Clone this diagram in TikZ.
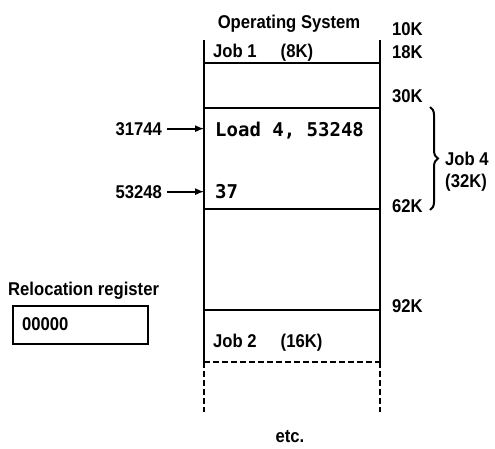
\documentclass[tikz,border=0pt]{standalone}
\usepackage{fontspec}
\setmainfont[FakeStretch=0.9]{Liberation Sans}
\newfontfamily\codefont{DejaVu Sans Mono}
\usetikzlibrary{decorations.pathreplacing}

\begin{document}
\begin{tikzpicture}[x=1pt,y=-1pt,>=latex,
    lbl/.style={anchor=base west,inner sep=0pt,font=\fontsize{18.5}{20}\selectfont\bfseries},
    code/.style={lbl,font=\fontsize{19}{21}\selectfont\codefont\bfseries},
    wall/.style={line width=2pt}]
    \useasboundingbox (0,0) rectangle (495,448);
    % memory column
    \coordinate (tl) at (204,40);
    \coordinate (tr) at (380,40);
    \coordinate (bl) at (204,362);
    \coordinate (br) at (380,362);
    \draw[wall] (tl) -- (bl) (tr) -- (br);
    \draw[wall] (204,63) -- (380,63) (204,108) -- (380,108)
        (204,209) -- (380,209) (204,310) -- (380,310);
    \draw[wall,dash pattern=on 6pt off 3pt] (bl) -- (br)
        (bl) -- ++(0,50) (br) -- ++(0,50);
    % contents
    \node[lbl,anchor=base] (os) at (289,28) {Operating System};
    \node[lbl] (job1) at (213,57) {Job 1\hspace{1.3em}(8K)};
    \node[code] (load) at (215,136) {Load 4, 53248};
    \node[code] (val) at (215,198) {37};
    \node[lbl] (job2) at (213,347) {Job 2\hspace{1.3em}(16K)};
    \node[lbl,anchor=base] (etc) at (290,442) {etc.};
    % addresses
    \node[lbl] (k10) at (392,35) {10K};
    \node[lbl] (k18) at (392,58) {18K};
    \node[lbl] (k30) at (392,102) {30K};
    \node[lbl] (k62) at (392,212) {62K};
    \node[lbl] (k92) at (392,312) {92K};
    \node[lbl,anchor=base east] (a1) at (162,135) {31744};
    \node[lbl,anchor=base east] (a2) at (162,198) {53248};
    \draw[->,wall] (a1.east) ++(5,0) -- (a1.east -| tl);
    \draw[->,wall] (a2.east) ++(5,0) -- (a2.east -| tl);
    % job 4 brace
    \coordinate (btop) at (430,107);
    \coordinate (bbot) at (430,210);
    \draw[wall,decorate,decoration={brace,amplitude=8pt}] (btop) -- (bbot);
    \node[lbl] (job4) at (445,165) {Job 4};
    \node[lbl] (size4) at (445,187) {(32K)};
    % relocation register
    \node[lbl] (rr) at (8,295) {Relocation register};
    \node[draw,wall,minimum width=135pt,minimum height=38pt,anchor=north west,
        inner sep=0pt] (reg) at (12,305) {};
    \node[lbl] (rval) at (22,330) {00000};
\end{tikzpicture}
\end{document}
